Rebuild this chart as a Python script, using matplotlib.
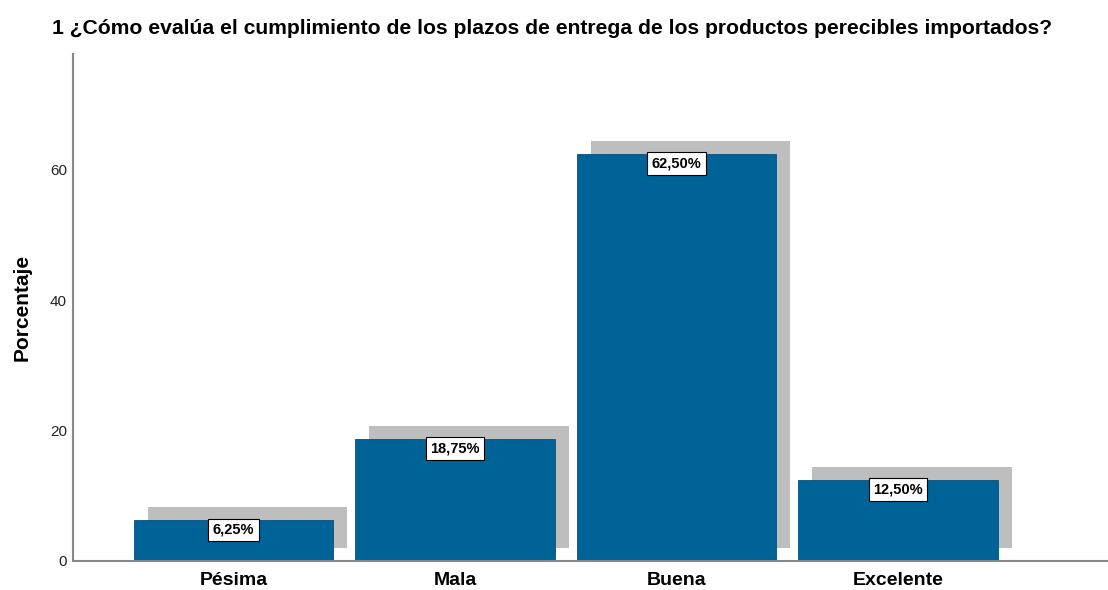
import matplotlib.pyplot as plt
import matplotlib.transforms as mtransforms

plt.rcParams['font.family'] = ['Liberation Sans', 'DejaVu Sans']

categorias = ["Pésima", "Mala", "Buena", "Excelente"]
porcentajes = [6.25, 18.75, 62.50, 12.50]
etiquetas = ["6,25%", "18,75%", "62,50%", "12,50%"]
titulo = "1 ¿Cómo evalúa el cumplimiento de los plazos de entrega de los productos perecibles importados?"

fig = plt.figure(figsize=(11.08, 5.90), dpi=100)
ax = fig.add_axes([73 / 1108, 29 / 590, 1034 / 1108, 507 / 590])

x = list(range(len(categorias)))

# sombra desplazada (estilo SPSS)
sombra = ax.transData + mtransforms.ScaledTranslation(0.14, 0.13, fig.dpi_scale_trans)
ax.bar(x, porcentajes, width=0.9, color="#bebebe", transform=sombra, zorder=1)
ax.bar(x, porcentajes, width=0.9, color="#006398", edgecolor="#0a4f78",
       linewidth=0.6, zorder=2)

for xi, v, t in zip(x, porcentajes, etiquetas):
    ax.annotate(t, (xi, v), xytext=(0, -7), textcoords="offset points",
                ha="center", va="center", fontsize=10.5, fontweight="bold",
                bbox=dict(boxstyle="square,pad=0.3", fc="white", ec="black", lw=0.8),
                zorder=3)

ax.set_xlim(-0.725, 3.944)
ax.set_ylim(0, 77.8)
ax.set_yticks([0, 20, 40, 60])
ax.set_xticks(x, categorias)
ax.tick_params(axis="y", length=0, pad=4.5, labelsize=11, labelcolor="#222222")
ax.tick_params(axis="x", length=0, pad=8, labelsize=14)
for lab in ax.get_xticklabels():
    lab.set_fontweight("bold")

for s in ["top", "right"]:
    ax.spines[s].set_visible(False)
for s in ["left", "bottom"]:
    ax.spines[s].set_color("#888888")
    ax.spines[s].set_linewidth(1.5)

ax.set_ylabel("Porcentaje", fontsize=15, fontweight="bold", labelpad=13)
fig.text(52 / 1108, 1 - 29 / 590, titulo, fontsize=15.2, fontweight="bold",
         ha="left", va="center")

plt.savefig("out.png")
